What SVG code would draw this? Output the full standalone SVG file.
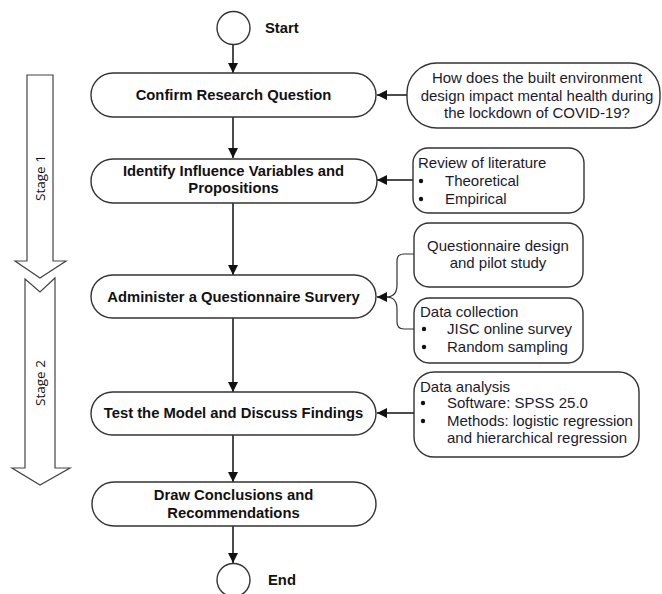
<svg xmlns="http://www.w3.org/2000/svg" width="662" height="594" viewBox="0 0 662 594">
<style>
.box{fill:#fff;stroke:#333;stroke-width:1.4}
.stage{fill:#fff;stroke:#444;stroke-width:1.2}
.conn{fill:none;stroke:#111;stroke-width:1.5}
.b{font-family:"Liberation Sans",Arial,sans-serif;font-weight:bold;font-size:14.8px;fill:#111}
.n{font-family:"Liberation Sans",Arial,sans-serif;font-size:15px;fill:#1a1a2e}
.c{text-anchor:middle}
.st{font-family:"Open Sans","DejaVu Sans",sans-serif;font-size:13.5px;fill:#111}
</style>
<defs>
<marker id="ah" viewBox="0 0 10 10" refX="10" refY="5" markerWidth="10" markerHeight="10" markerUnits="userSpaceOnUse" orient="auto">
<path d="M0,0 L10,5 L0,10 z" fill="#111"/>
</marker>
</defs>

<g id="stage1">
<path class="stage" d="M27,75 H53 V261 H66 L40,278 L15,261 H27 Z"/>
<text class="st c" transform="translate(45,178) rotate(-90)">Stage 1</text>
</g>
<g id="stage2">
<path class="stage" d="M25,279 L40,292 L55,278 V468 H70 L40,485 L12,468 H25 Z"/>
<text class="st c" transform="translate(45,383) rotate(-90)">Stage 2</text>
</g>

<g id="connectors">
<path class="conn" d="M233,45 V73" marker-end="url(#ah)"/>
<path class="conn" d="M233,117 V158" marker-end="url(#ah)"/>
<path class="conn" d="M233,203 V275" marker-end="url(#ah)"/>
<path class="conn" d="M233,318 V392" marker-end="url(#ah)"/>
<path class="conn" d="M233,435 V482" marker-end="url(#ah)"/>
<path class="conn" d="M233,526 V563" marker-end="url(#ah)"/>
<path class="conn" d="M407,95 H377" marker-end="url(#ah)"/>
<path class="conn" d="M413,180 H377" marker-end="url(#ah)"/>
<path class="conn" d="M414,413 H377" marker-end="url(#ah)"/>
<path class="conn" style="stroke-width:1.2;stroke:#333" d="M414,254 H404 Q397,254 397,261 V285 Q397,297 386,297"/>
<path class="conn" style="stroke-width:1.2;stroke:#333" d="M414,329 H404 Q397,329 397,322 V309 Q397,297 386,297"/>
<path class="conn" d="M386,297 H377" marker-end="url(#ah)"/>
</g>

<g id="start">
<circle class="box" cx="233.5" cy="28" r="16.5"/>
<text class="b" x="265" y="33">Start</text>
</g>
<g id="confirm">
<rect class="box" x="91" y="73" width="285" height="44" rx="22"/>
<text class="b c" x="233.5" y="100">Confirm Research Question</text>
</g>
<g id="question">
<rect class="box" x="407" y="63" width="253" height="65" rx="30"/>
<text class="n c" x="537" y="83">How does the built environment</text>
<text class="n c" x="537" y="101">design impact mental health during</text>
<text class="n c" x="537" y="118">the lockdown of COVID-19?</text>
</g>
<g id="identify">
<rect class="box" x="91" y="159" width="286" height="44" rx="22"/>
<text class="b c" x="233.5" y="176">Identify Influence Variables and</text>
<text class="b c" x="233.5" y="193">Propositions</text>
</g>
<g id="review">
<rect class="box" x="413" y="148" width="171" height="65" rx="15"/>
<text class="n" x="418" y="168">Review of literature</text>
<circle cx="421" cy="181" r="2.2" fill="#111"/>
<text class="n" x="445" y="186">Theoretical</text>
<circle cx="421" cy="199" r="2.2" fill="#111"/>
<text class="n" x="445" y="204">Empirical</text>
</g>
<g id="administer">
<rect class="box" x="91" y="275" width="285" height="43" rx="21.5"/>
<text class="b c" x="233.5" y="302">Administer a Questionnaire Survery</text>
</g>
<g id="qdesign">
<rect class="box" x="414" y="223" width="169" height="64" rx="15"/>
<text class="n c" x="498" y="251">Questionnaire design</text>
<text class="n c" x="498" y="268">and pilot study</text>
</g>
<g id="datacollection">
<rect class="box" x="414" y="298" width="169" height="65" rx="15"/>
<text class="n" x="420" y="317">Data collection</text>
<circle cx="424" cy="329" r="2.2" fill="#111"/>
<text class="n" x="447" y="334">JISC online survey</text>
<circle cx="424" cy="347" r="2.2" fill="#111"/>
<text class="n" x="447" y="352">Random sampling</text>
</g>
<g id="test">
<rect class="box" x="91" y="392" width="285" height="43" rx="21.5"/>
<text class="b c" x="233.5" y="418">Test the Model and Discuss Findings</text>
</g>
<g id="dataanalysis">
<rect class="box" x="414" y="372" width="225" height="85" rx="20"/>
<text class="n" x="420" y="392">Data analysis</text>
<circle cx="423" cy="403" r="2.2" fill="#111"/>
<text class="n" x="447" y="408">Software: SPSS 25.0</text>
<circle cx="423" cy="421" r="2.2" fill="#111"/>
<text class="n" x="447" y="426">Methods: logistic regression</text>
<text class="n" x="447" y="443">and hierarchical regression</text>
</g>
<g id="draw">
<rect class="box" x="92" y="482" width="284" height="44" rx="22"/>
<text class="b c" x="233.5" y="500">Draw Conclusions and</text>
<text class="b c" x="233.5" y="518">Recommendations</text>
</g>
<g id="end">
<circle class="box" cx="233.5" cy="580" r="16.5"/>
<text class="b" x="268" y="585">End</text>
</g>
</svg>
